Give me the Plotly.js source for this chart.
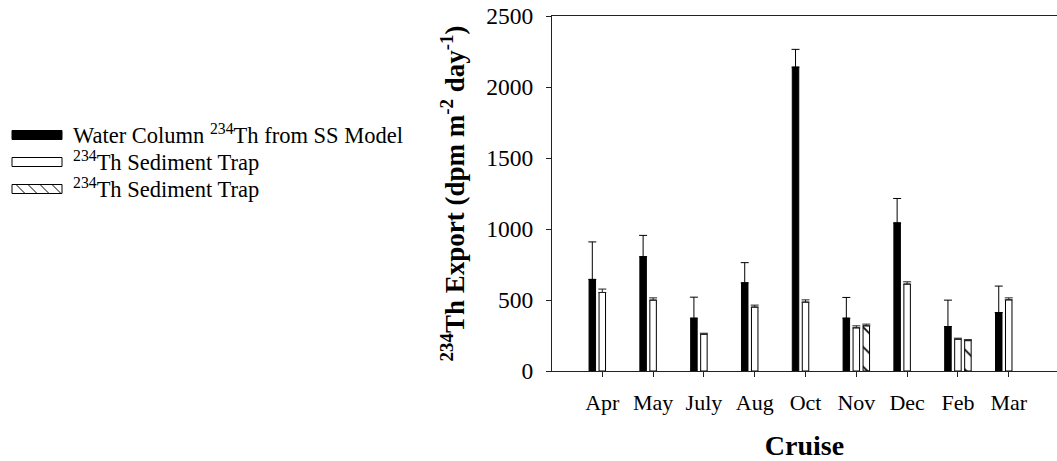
<!DOCTYPE html>
<html>
<head>
<meta charset="utf-8">
<script src="https://cdn.plot.ly/plotly-3.0.1.min.js"></script>
<style>html,body{margin:0;padding:0;background:#fff;}#chart{width:1057px;height:461px;}</style>
</head>
<body>
<div id="chart"></div>
<script>
// ---- data ----
const categories = ['Apr', 'May', 'July', 'Aug', 'Oct', 'Nov', 'Dec', 'Feb', 'Mar'];
const modelValues = [645, 805, 372, 621, 2140, 372, 1043, 313, 412];
const modelErrors = [264, 150, 148, 142, 125, 146, 172, 186, 186];
const trapValues = [553, 499, 259, 450, 485, 304, 612, 224, 501];
const trapErrors = [24, 16, 7, 14, 16, 14, 16, 7, 14];
const trap2Values = [null, null, null, null, null, 318, null, 214, null];
const trap2Errors = [null, null, null, null, null, 12, null, 7, null];
const seriesNames = ['Water Column <sup>234</sup>Th from SS Model', '<sup>234</sup>Th Sediment Trap', '<sup>234</sup>Th Sediment Trap'];
const yTicks = [0, 500, 1000, 1500, 2000, 2500];

const W = 1057, H = 461;
const plotTop = 16, plotBottom = 371, plotLeft = 552;
const FONT = 'Liberation Serif, Times New Roman, serif';

function upErr(arr, color) {
  return {type: 'data', array: arr, arrayminus: arr.map(() => 0), symmetric: false,
          visible: true, color: color, thickness: 1, width: 4};
}

const traces = [
  {type: 'bar', x: categories, y: modelValues, name: seriesNames[0],
   marker: {color: '#000', line: {color: '#000', width: 1}},
   error_y: upErr(modelErrors, '#000')},
  {type: 'bar', x: categories, y: trapValues, name: seriesNames[1],
   marker: {color: '#fff', line: {color: '#000', width: 1}},
   error_y: upErr(trapErrors, '#222')},
  {type: 'bar', x: categories, y: trap2Values, name: seriesNames[2],
   marker: {color: '#fff', line: {color: '#000', width: 1},
            pattern: {shape: '\\', fgcolor: '#000', bgcolor: '#fff', size: 14, solidity: 0.12}},
   error_y: upErr(trap2Errors, '#222')}
];

// ---- custom legend (layout decoration) ----
const px2x = p => p / W;
const py2y = p => (plotBottom - p) / (plotBottom - plotTop);
const legendRows = [135, 162, 189];
const swX0 = 12, swX1 = 62, swH = 9, textX = 71;
const shapes = [];
const annotations = [];
legendRows.forEach((cy, i) => {
  shapes.push({type: 'rect', xref: 'paper', yref: 'paper',
    x0: px2x(swX0), x1: px2x(swX1), y0: py2y(cy + swH / 2), y1: py2y(cy - swH / 2),
    fillcolor: i === 0 ? '#000' : '#fff', line: {color: '#000', width: 1}});
  annotations.push({xref: 'paper', yref: 'paper', x: px2x(textX), y: py2y(cy - 1),
    xanchor: 'left', yanchor: 'middle', showarrow: false, text: seriesNames[i],
    font: {family: FONT, size: 22.5, color: '#000'}});
});
[16, 28, 40, 52].forEach(h => {
  const top = legendRows[2] - swH / 2, bot = legendRows[2] + swH / 2;
  shapes.push({type: 'line', xref: 'paper', yref: 'paper',
    x0: px2x(h), y0: py2y(top), x1: px2x(h + 9), y1: py2y(bot),
    line: {color: '#000', width: 1}});
});

const layout = {
  width: W, height: H,
  margin: {l: 0, r: 0, t: plotTop, b: H - plotBottom, pad: 0},
  paper_bgcolor: '#fff', plot_bgcolor: '#fff',
  showlegend: false,
  barmode: 'group', bargap: 0.41, bargroupgap: 0.35,
  font: {family: FONT, color: '#000', size: 22},
  xaxis: {
    domain: [plotLeft / W, 1], type: 'category', range: [-0.99, 8.95],
    showline: true, linecolor: '#222', linewidth: 1, mirror: true,
    ticks: 'outside', ticklen: 5, tickcolor: '#222', showgrid: false, zeroline: false,
    tickfont: {family: FONT, size: 22, color: '#000'}, ticklabelstandoff: 7,
    title: {text: '<b>Cruise</b>', font: {family: FONT, size: 28, color: '#000'}, standoff: 20}
  },
  yaxis: {
    range: [0, 2500], tickvals: yTicks, ticktext: yTicks.map(String),
    showline: true, linecolor: '#222', linewidth: 1,
    ticks: 'outside', ticklen: 5, tickcolor: '#222', showgrid: false, zeroline: false,
    tickfont: {family: FONT, size: 23.5, color: '#000'}, ticklabelstandoff: 8,
    title: {text: '<b><sup>234</sup>Th Export (dpm m<sup>-2</sup> day<sup>-1</sup>)</b>',
            font: {family: FONT, size: 27, color: '#000'}, standoff: 13}
  },
  shapes: shapes,
  annotations: annotations
};

Plotly.newPlot('chart', traces, layout, {staticPlot: true, displayModeBar: false});
</script>
</body>
</html>
